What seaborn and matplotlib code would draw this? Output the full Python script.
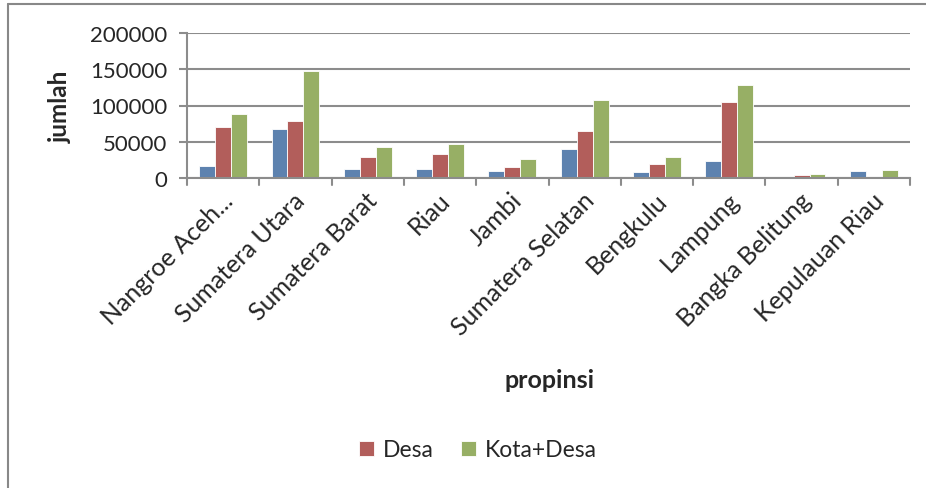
import pandas as pd
import numpy as np
import matplotlib
matplotlib.use('Agg')
import matplotlib.pyplot as plt
import matplotlib.transforms as mtrans
import seaborn as sns
from matplotlib.lines import Line2D

sns.set_style('white')
plt.rcParams['font.family'] = ['Lato', 'DejaVu Sans']

# data
propinsi = ['Nangroe Aceh...', 'Sumatera Utara', 'Sumatera Barat', 'Riau', 'Jambi',
            'Sumatera Selatan', 'Bengkulu', 'Lampung', 'Bangka Belitung', 'Kepulauan Riau']
kota = [16700, 68000, 13000, 13000, 9700, 40300, 8300, 23200, 1400, 9700]
desa = [70400, 78200, 29200, 32900, 15300, 65300, 19400, 105000, 3700, 1400]
kota_desa = [88500, 147000, 43000, 46800, 26400, 107000, 29200, 128700, 6000, 11600]
series = ['Kota', 'Desa', 'Kota+Desa']
colors = ['#4F81BD', '#C0504D', '#9BBB59']

df = pd.DataFrame({'propinsi': propinsi * 3,
                   'seri': np.repeat(series, len(propinsi)),
                   'jumlah': kota + desa + kota_desa})

fig = plt.figure(figsize=(9.26, 4.89), dpi=100)
ax = fig.add_axes([187 / 926, 1 - 179 / 489, 723 / 926, 145 / 489])

sns.barplot(data=df, x='propinsi', y='jumlah', hue='seri', palette=colors,
            width=0.66, edgecolor='white', linewidth=0.6, ax=ax)

ax.set_ylim(0, 200000)
ax.set_yticks([0, 50000, 100000, 150000, 200000])
ax.set_yticklabels(['0', '50000', '100000', '150000', '200000'], fontsize=16)
ax.set_xlim(-0.5, len(propinsi) - 0.5)
ax.yaxis.grid(True, color='#8c8c8c', linewidth=1.5)
ax.set_axisbelow(True)
for s in ['top', 'right']:
    ax.spines[s].set_visible(False)
for s in ['left', 'bottom']:
    ax.spines[s].set_color('#8c8c8c')
    ax.spines[s].set_linewidth(1.5)

# category labels, ticks between the groups
ax.set_xticks(np.arange(len(propinsi)))
ax.set_xticklabels(propinsi, rotation=45, ha='right', va='center',
                   rotation_mode='anchor', fontsize=18)
ax.tick_params(axis='x', length=0, pad=13)
shift = mtrans.ScaledTranslation(6 / 100, 0, fig.dpi_scale_trans)
for lab in ax.get_xticklabels():
    lab.set_transform(lab.get_transform() + shift)
ax.tick_params(axis='y', length=6, color='#8c8c8c', width=1.5, pad=8, left=True)
for xb in np.arange(-0.5, len(propinsi), 1.0):
    ax.plot([xb, xb], [0, -0.045], transform=ax.get_xaxis_transform(),
            color='#8c8c8c', linewidth=1.5, clip_on=False)

ax.set_xlabel('propinsi', fontsize=18, fontweight='bold')
ax.xaxis.set_label_coords((550 - 187) / 723, -(369 - 179) / 145)
ax.set_ylabel('jumlah', fontsize=17.5, fontweight='bold')
ax.yaxis.set_label_coords(-(187 - 72) / 723, 0.5)

# legend shows only Desa and Kota+Desa
handles, labels = ax.get_legend_handles_labels()
ax.get_legend().remove()
fig.legend(handles[1:], labels[1:], loc='center', bbox_to_anchor=(478 / 926, 1 - 451 / 489),
           ncol=2, frameon=False, fontsize=16.5, handlelength=0.65, handleheight=0.65,
           columnspacing=1.2, handletextpad=0.4)

# outer chart border
fig.add_artist(Line2D([8 / 926, 8 / 926], [0, 1 - 5 / 489], transform=fig.transFigure,
                      color='#888888', linewidth=1.5))
fig.add_artist(Line2D([8 / 926, 1], [1 - 5 / 489, 1 - 5 / 489], transform=fig.transFigure,
                      color='#888888', linewidth=1.5))

plt.savefig('out.png', dpi=100)
